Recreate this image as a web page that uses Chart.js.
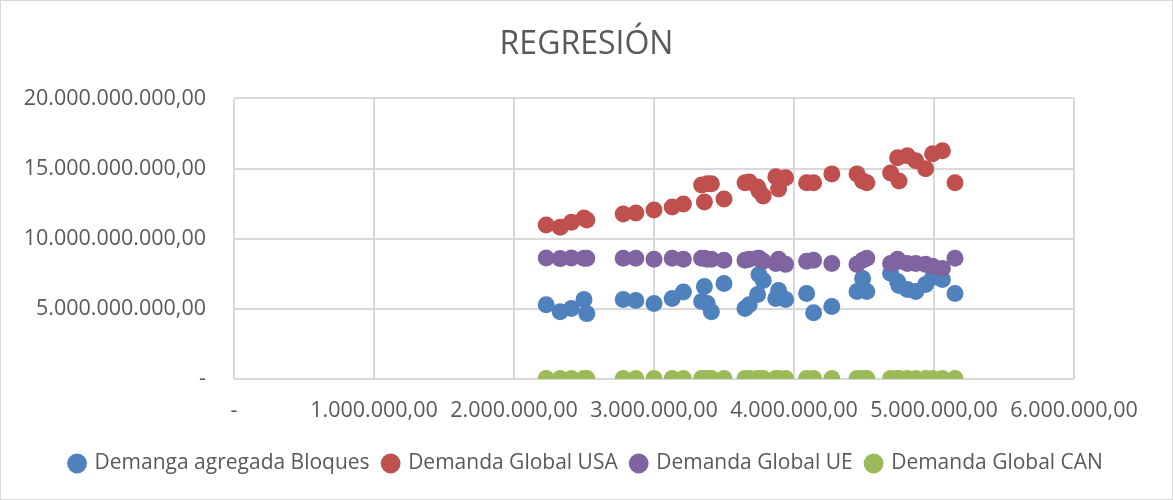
<!DOCTYPE html>
<html>
<head>
<meta charset="utf-8">
<script src="https://cdn.jsdelivr.net/npm/chart.js@4/dist/chart.umd.min.js"></script>
<style>
  html, body { margin: 0; padding: 0; background: #fff; }
  #wrap { width: 1171px; height: 498px; border: 1px solid #d9d9d9; position: relative; }
</style>
</head>
<body>
<div id="wrap"><canvas id="c"></canvas></div>
<script>
const xVals = [
  2230000, 2330000, 2410000, 2500000, 2520000,
  2780000, 2870000, 3000000, 3130000, 3210000,
  3340000, 3360000, 3380000, 3410000, 3500000,
  3650000, 3680000, 3740000, 3750000, 3780000, 3870000, 3890000, 3940000,
  4090000, 4140000, 4270000,
  4450000, 4490000, 4520000,
  4690000, 4740000, 4750000, 4810000, 4870000, 4940000, 4990000, 5060000, 5150000
];
const demBloques = [
  5.30e9, 4.80e9, 5.02e9, 5.66e9, 4.66e9,
  5.66e9, 5.59e9, 5.38e9, 5.73e9, 6.20e9,
  5.52e9, 6.59e9, 5.38e9, 4.80e9, 6.81e9,
  5.02e9, 5.30e9, 6.02e9, 7.45e9, 7.02e9, 5.73e9, 6.31e9, 5.66e9,
  6.09e9, 4.73e9, 5.16e9,
  6.24e9, 7.17e9, 6.24e9,
  7.53e9, 6.95e9, 6.67e9, 6.38e9, 6.24e9, 6.74e9, 7.24e9, 7.10e9, 6.09e9
];
const demUSA = [
  10.97e9, 10.82e9, 11.18e9, 11.47e9, 11.33e9,
  11.76e9, 11.83e9, 12.04e9, 12.26e9, 12.47e9,
  13.83e9, 12.62e9, 13.91e9, 13.91e9, 12.83e9,
  13.98e9, 14.05e9, 13.69e9, 13.40e9, 13.05e9, 14.41e9, 13.55e9, 14.34e9,
  13.98e9, 13.98e9, 14.62e9,
  14.62e9, 14.12e9, 13.98e9,
  14.69e9, 15.77e9, 14.12e9, 15.91e9, 15.56e9, 14.98e9, 16.06e9, 16.27e9, 13.98e9
];
const demUE = [
  8.62e9, 8.58e9, 8.62e9, 8.60e9, 8.60e9,
  8.60e9, 8.60e9, 8.53e9, 8.60e9, 8.53e9,
  8.60e9, 8.60e9, 8.53e9, 8.53e9, 8.46e9,
  8.46e9, 8.53e9, 8.60e9, 8.60e9, 8.39e9, 8.24e9, 8.53e9, 8.17e9,
  8.39e9, 8.46e9, 8.24e9,
  8.17e9, 8.46e9, 8.60e9,
  8.24e9, 8.53e9, 8.39e9, 8.24e9, 8.24e9, 8.17e9, 8.03e9, 7.88e9, 8.60e9
];
const demCAN = [
  0.03e9, 0.03e9, 0.03e9, 0.03e9, 0.03e9,
  0.03e9, 0.03e9, 0.03e9, 0.03e9, 0.03e9,
  0.03e9, 0.03e9, 0.03e9, 0.03e9, 0.03e9,
  0.03e9, 0.03e9, 0.03e9, 0.03e9, 0.03e9, 0.03e9, 0.03e9, 0.03e9,
  0.03e9, 0.03e9, 0.03e9,
  0.03e9, 0.03e9, 0.03e9,
  0.03e9, 0.03e9, 0.03e9, 0.03e9, 0.03e9, 0.03e9, 0.03e9, 0.03e9, 0.03e9
];
const seriesNames = ['Demanga agregada Bloques', 'Demanda Global USA', 'Demanda Global UE', 'Demanda Global CAN'];
const seriesColors = ['#4f81bd', '#c0504d', '#8064a2', '#9bbb59'];
const seriesData = [demBloques, demUSA, demUE, demCAN];

// 1.000.000,00 style, zero shown as "-"
function fmtEs(v) {
  if (v === 0) return '-';
  const [i, d] = Math.abs(v).toFixed(2).split('.');
  return i.replace(/\B(?=(\d{3})+(?!\d))/g, '.') + ',' + d;
}

const TXT = '#595959';
const GRID = '#d9d9d9';
const FONT = "'Open Sans', sans-serif";

new Chart(document.getElementById('c'), {
  type: 'scatter',
  data: {
    datasets: seriesData.map((arr, k) => ({
      label: seriesNames[k],
      data: arr.map((y, j) => ({ x: xVals[j], y })),
      backgroundColor: seriesColors[k],
      borderColor: seriesColors[k],
      borderWidth: 0,
      pointRadius: 8.5,
      pointHoverRadius: 8.5,
      order: 4 - k,
    })),
  },
  options: {
    responsive: true, maintainAspectRatio: false, animation: false,
    layout: { padding: { left: 0, right: 0, top: 25, bottom: 15 } },
    plugins: {
      title: { display: true, text: 'REGRESIÓN', color: TXT,
        font: { family: FONT, size: 32, weight: 'normal' }, padding: { top: 0, bottom: 34 } },
      legend: { position: 'bottom',
        labels: { usePointStyle: true, pointStyle: 'circle', boxWidth: 14, boxHeight: 14, padding: 14,
          color: TXT, font: { family: FONT, size: 21 },
          sort: (a, b) => a.datasetIndex - b.datasetIndex } },
      tooltip: { enabled: false },
    },
    scales: {
      x: { type: 'linear', min: 0, max: 6000000,
        border: { display: false },
        grid: { color: GRID, lineWidth: 2, drawTicks: false },
        ticks: { stepSize: 1000000, color: TXT, padding: 19, maxRotation: 0,
          font: { family: FONT, size: 21.5 }, callback: v => fmtEs(v) },
        afterFit: s => { s.height = 60; } },
      y: { min: 0, max: 20000000000,
        border: { display: false },
        grid: { color: GRID, lineWidth: 2, drawTicks: false },
        ticks: { stepSize: 5000000000, color: TXT, padding: 28,
          font: { family: FONT, size: 21.5 }, callback: v => fmtEs(v) },
        afterFit: s => { s.width = 233; } },
      // empty right-hand strip so title and legend stay centred on the whole canvas
      yRight: { position: 'right', min: 0, max: 1,
        border: { display: false }, grid: { display: false }, ticks: { display: false },
        afterFit: s => { s.width = 98; } },
    },
  },
});
</script>
</body>
</html>
